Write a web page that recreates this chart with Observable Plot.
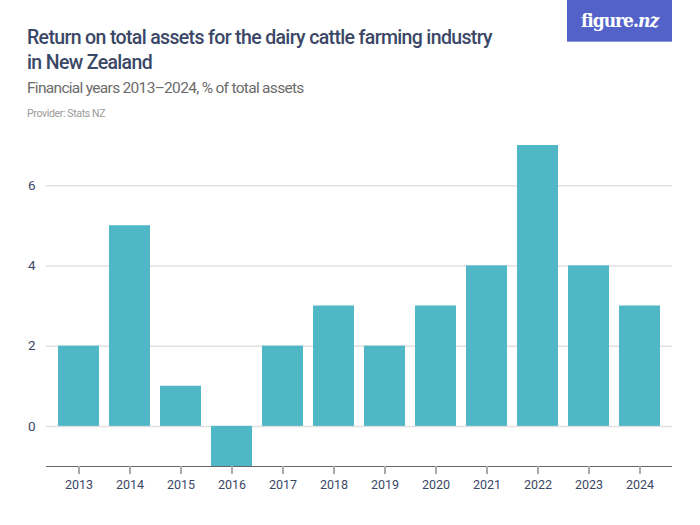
<!DOCTYPE html>
<html>
<head>
<meta charset="utf-8">
<script src="https://cdn.jsdelivr.net/npm/d3@7"></script>
<script src="https://cdn.jsdelivr.net/npm/@observablehq/plot@0.6"></script>
<style>
  html, body { margin: 0; padding: 0; background: #fff; }
  #wrap { position: relative; width: 700px; height: 525px; overflow: hidden; font-family: "Roboto", sans-serif; }
  #title { position: absolute; left: 27px; top: 25px; width: 520px; font-size: 19.5px; line-height: 25px; color: #3b4766; font-weight: 500; letter-spacing: -0.65px; }
  #subtitle { position: absolute; left: 27px; top: 79px; font-size: 15.5px; color: #6b6b6b; letter-spacing: -0.7px; }
  #provider { position: absolute; left: 27px; top: 107px; font-size: 10.5px; color: #9a9a9a; letter-spacing: -0.35px; }
  #logo { position: absolute; left: 567px; top: 0; width: 105px; height: 41px; background: #5262c8; border-bottom: 1px solid #8f9be0; color: #fff; font-family: "DejaVu Serif", serif; font-weight: bold; font-stretch: condensed; font-size: 19px; text-align: center; line-height: 40px; letter-spacing: -1px; }
  #chart { position: absolute; left: 0; top: 130px; }
</style>
</head>
<body>
<div id="wrap">
  <div id="title">Return on total assets for the dairy cattle farming industry<br>in New Zealand</div>
  <div id="subtitle">Financial years 2013–2024, % of total assets</div>
  <div id="provider">Provider: Stats NZ</div>
  <div id="logo">figure.<i>nz</i></div>
  <div id="chart"></div>
</div>
<script>
const years = ["2013","2014","2015","2016","2017","2018","2019","2020","2021","2022","2023","2024"];
const values = [2, 5, 1, -1, 2, 3, 2, 3, 4, 7, 4, 3];
const yTicks = [0, 2, 4, 6];

const data = years.map((y, i) => ({year: y, value: values[i]}));

const chart = Plot.plot({
  width: 700,
  height: 395,
  marginLeft: 46,
  marginRight: 28,
  marginTop: 15,
  marginBottom: 59,
  style: {fontFamily: '"Roboto", sans-serif', fontSize: "12.5px", color: "#3b4766", background: "transparent"},
  x: {domain: years, padding: 0.2, label: null, tickSize: 8, tickPadding: 6},
  y: {domain: [-1, 7], label: null, ticks: yTicks, tickSize: 0, tickPadding: 11},
  marks: [
    Plot.ruleY(yTicks, {stroke: "#e0e0e0", strokeWidth: 1.5}),
    Plot.barY(data, {x: "year", y: "value", fill: "#4fb7c5"}),
    Plot.ruleY([-1], {stroke: "#666", strokeWidth: 1.2}),
    Plot.axisX({tickSize: 8, stroke: "#aaa", strokeWidth: 2, tickPadding: 6, fill: "#3b4766", style: {letterSpacing: "-0.4px"}}),
    Plot.axisY({ticks: yTicks, tickSize: 0, tickPadding: 11, fill: "#3b4766", fontSize: 13.5})
  ]
});
document.getElementById("chart").appendChild(chart);
</script>
</body>
</html>
